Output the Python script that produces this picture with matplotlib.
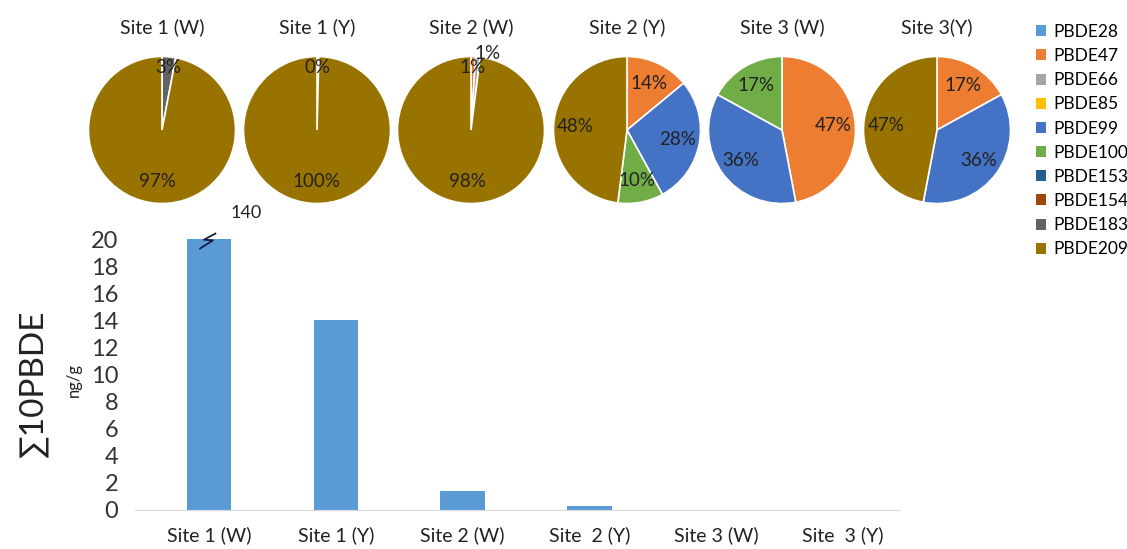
# PBDE composition pies per site plus total concentration bars

import matplotlib
matplotlib.use("Agg")
import matplotlib.pyplot as plt
import numpy as np
from matplotlib.patches import Patch

plt.rcParams['font.family'] = ['Lato', 'DejaVu Sans']

congeners = ['PBDE28', 'PBDE47', 'PBDE66', 'PBDE85', 'PBDE99',
             'PBDE100', 'PBDE153', 'PBDE154', 'PBDE183', 'PBDE209']
colors = ['#5B9BD5', '#ED7D31', '#A5A5A5', '#FFC000', '#4472C4',
          '#70AD47', '#255E91', '#9E480E', '#636363', '#997300']

pie_titles = ['Site 1 (W)', 'Site 1 (Y)', 'Site 2 (W)', 'Site 2 (Y)', 'Site 3 (W)', 'Site 3(Y)']
# percent share of each congener (order as in `congeners`)
site1_w = [0, 0, 0, 0, 0, 0, 0, 0, 3, 97]
site1_y = [0, 0, 0.4, 0, 0, 0, 0, 0, 0, 99.6]
site2_w = [0, 1, 1, 0, 0, 0, 0, 0, 0, 98]
site2_y = [0, 14, 0, 0, 28, 10, 0, 0, 0, 48]
site3_w = [0, 47, 0, 0, 36, 17, 0, 0, 0, 0]
site3_y = [0, 17, 0, 0, 36, 0, 0, 0, 0, 47]
pie_data = [site1_w, site1_y, site2_w, site2_y, site3_w, site3_y]

bar_labels = ['Site 1 (W)', 'Site 1 (Y)', 'Site 2 (W)', 'Site  2 (Y)', 'Site 3 (W)', 'Site  3 (Y)']
totals = [140, 14, 1.4, 0.27, 0.0, 0.0]   # ng/g
y_cap = 20

W, H = 1127, 549
fig = plt.figure(figsize=(W / 100, H / 100), dpi=100)

# ---- pies ----
pie_cx = [162, 317, 471, 627, 782, 937]
pie_cy, pie_r = 130, 75
for cx, title, vals in zip(pie_cx, pie_titles, pie_data):
    ax = fig.add_axes([(cx - pie_r) / W, (H - pie_cy - pie_r) / H, 2 * pie_r / W, 2 * pie_r / H])
    keep = [i for i, v in enumerate(vals) if v > 0]
    wedges, texts, autotexts = ax.pie(
        [vals[i] for i in keep], colors=[colors[i] for i in keep],
        startangle=90, counterclock=False, autopct='%.0f%%', pctdistance=0.7,
        wedgeprops=dict(edgecolor='white', linewidth=1.2),
        textprops=dict(fontsize=13.5, color='#222222'))
    # push labels of thin slices toward the rim so they don't stack
    k = 0
    for w, t in zip(wedges, autotexts):
        if abs(w.theta2 - w.theta1) < 18:
            ang = np.deg2rad((w.theta1 + w.theta2) / 2)
            d = 0.85 + 0.2 * k
            t.set_position((d * np.cos(ang) + 0.12 * k, d * np.sin(ang)))
            k += 1
    ax.set_xlim(-1.02, 1.02)
    ax.set_ylim(-1.02, 1.02)
    ax.set_aspect('equal')
    fig.text(cx / W, 1 - 27 / H, title, ha='center', va='center', fontsize=14, color='#222222')

# ---- legend ----
handles = [Patch(facecolor=c, edgecolor='none') for c in colors]
fig.legend(handles, congeners, loc='upper left', bbox_to_anchor=(1029 / W, 1 - 17 / H),
           frameon=False, fontsize=12.5, handlelength=0.6, handleheight=0.6,
           handletextpad=0.4, labelspacing=0.47, borderaxespad=0)

# ---- bars ----
bx = fig.add_axes([135 / W, (H - 510) / H, 765 / W, 271 / H])
xs = list(range(len(bar_labels)))
shown = [min(v, y_cap) for v in totals]
bx.bar(xs, shown, width=0.35, color='#5B9BD5')
bx.set_xlim(-0.584, 5.45)
bx.set_ylim(0, y_cap)
bx.set_yticks(range(0, 21, 2))
bx.set_xticks(xs)
bx.set_xticklabels(bar_labels, fontsize=14, color='#222222')
bx.tick_params(axis='y', length=0, pad=12, labelsize=17, labelcolor='#333333')
bx.tick_params(axis='x', length=0, pad=12)
for s in ['top', 'right', 'left']:
    bx.spines[s].set_visible(False)
bx.spines['bottom'].set_color('#D9D9D9')

# axis break mark and true value of the clipped bar
for x, v in zip(xs, totals):
    if v > y_cap:
        zx = [x - 0.07, x + 0.03, x - 0.04, x + 0.05]
        zy = [y_cap - 0.7, y_cap - 0.1, y_cap - 0.05, y_cap + 0.4]
        bx.plot(zx, zy, color='#1a1a3a', lw=1.3, clip_on=False)
        bx.text(x + 0.29, y_cap + 1.9, f'{v:g}', ha='center', va='center', fontsize=13, color='#222222')

fig.text(33 / W, 1 - 383 / H, '∑10PBDE', rotation=90, ha='center', va='center',
         fontsize=24, color='#222222')
fig.text(74 / W, 1 - 380 / H, 'ng/g', rotation=90, ha='center', va='center',
         fontsize=12, color='#222222')

fig.savefig('out.png', dpi=100, facecolor='white')
